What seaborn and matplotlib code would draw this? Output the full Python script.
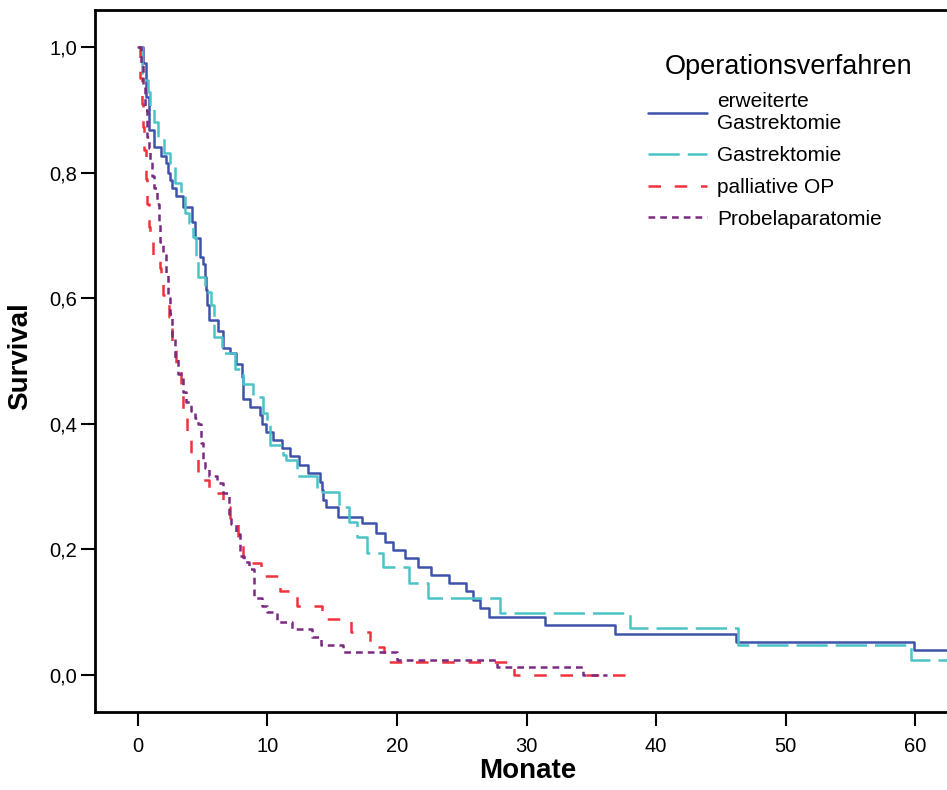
import numpy as np
import pandas as pd
import matplotlib
matplotlib.use('Agg')
import matplotlib.pyplot as plt
from matplotlib.ticker import FuncFormatter
import seaborn as sns

# Kaplan-Meier Stufen: Zeitpunkt (Monate) und Survival ab diesem Zeitpunkt
erw_t = [0, 0.35, 0.6, 0.85, 1.2, 1.8, 2.16, 2.3, 2.47, 2.6, 2.93, 3.5, 4.14, 4.4, 4.8,
         5.04, 5.17, 5.25, 5.33, 5.5, 6.2, 6.6, 7.1, 7.6, 8.0, 8.1, 8.65, 9.4, 9.6, 9.9,
         10.45, 11.1, 11.7, 12.4, 13.15, 14.05, 14.2, 14.3, 14.55, 15.45, 17.3, 18.4,
         19.1, 19.7, 20.6, 21.65, 22.6, 24.0, 25.3, 25.9, 26.4, 27.1, 31.4, 36.8, 46.2,
         59.9, 64.0]
erw_s = [1.0, 0.974, 0.921, 0.868, 0.841, 0.826, 0.815, 0.80, 0.788, 0.775, 0.762, 0.746,
         0.722, 0.696, 0.666, 0.655, 0.634, 0.613, 0.589, 0.565, 0.547, 0.52, 0.513, 0.496,
         0.475, 0.44, 0.427, 0.414, 0.40, 0.387, 0.374, 0.361, 0.348, 0.334, 0.321, 0.308,
         0.295, 0.279, 0.268, 0.252, 0.242, 0.226, 0.212, 0.199, 0.186, 0.172, 0.159, 0.146,
         0.133, 0.12, 0.106, 0.093, 0.08, 0.066, 0.053, 0.040, 0.040]

gas_t = [0, 0.3, 0.8, 0.93, 1.26, 1.57, 2.0, 2.47, 2.86, 3.3, 3.63, 3.94, 4.22, 4.48, 4.66,
         5.17, 5.6, 5.85, 5.9, 6.5, 7.49, 8.13, 8.9, 9.63, 9.94, 10.2, 11.2, 11.4, 12.3,
         13.8, 15.55, 16.3, 16.9, 17.66, 18.94, 20.95, 22.4, 27.95, 38.0, 46.35, 59.7, 64.0]
gas_s = [1.0, 0.947, 0.929, 0.905, 0.881, 0.857, 0.831, 0.815, 0.783, 0.767, 0.736, 0.72,
         0.697, 0.664, 0.634, 0.61, 0.589, 0.571, 0.539, 0.513, 0.488, 0.464, 0.443, 0.417,
         0.401, 0.366, 0.35, 0.342, 0.317, 0.292, 0.268, 0.244, 0.22, 0.194, 0.172, 0.147,
         0.122, 0.098, 0.074, 0.048, 0.024, 0.024]

pal_t = [0, 0.15, 0.29, 0.41, 0.5, 0.62, 0.73, 0.85, 0.93, 1.13, 1.7, 1.75, 1.9, 2.4, 2.6,
         2.95, 3.3, 3.5, 3.8, 4.07, 4.6, 5.45, 6.6, 7.1, 7.75, 8.13, 9.5, 11.0, 12.25, 14.2,
         16.45, 17.9, 19.0, 29.0, 38.0]
pal_s = [1.0, 0.95, 0.91, 0.873, 0.836, 0.79, 0.75, 0.713, 0.693, 0.666, 0.648, 0.629,
         0.605, 0.57, 0.53, 0.495, 0.46, 0.422, 0.38, 0.352, 0.31, 0.29, 0.268, 0.244, 0.21,
         0.178, 0.157, 0.133, 0.11, 0.089, 0.068, 0.045, 0.021, 0.0, 0.0]

pro_t = [0, 0.2, 0.35, 0.55, 0.7, 0.85, 0.95, 1.05, 1.25, 1.45, 1.6, 1.7, 1.9, 2.15, 2.35,
         2.5, 2.65, 2.85, 3.1, 3.5, 3.7, 4.1, 4.4, 4.6, 4.9, 5.05, 5.2, 5.5, 6.1, 6.6, 7.0,
         7.2, 7.6, 7.9, 8.2, 8.6, 8.95, 9.55, 10.0, 10.7, 11.9, 13.4, 14.1, 15.85, 20.0,
         27.7, 34.4, 36.2]
pro_s = [1.0, 0.974, 0.94, 0.9, 0.857, 0.84, 0.82, 0.795, 0.775, 0.75, 0.72, 0.69, 0.67,
         0.64, 0.6, 0.575, 0.535, 0.505, 0.48, 0.45, 0.435, 0.42, 0.41, 0.4, 0.37, 0.34,
         0.33, 0.317, 0.305, 0.29, 0.255, 0.24, 0.225, 0.19, 0.18, 0.168, 0.122, 0.11, 0.1,
         0.085, 0.073, 0.061, 0.048, 0.036, 0.024, 0.012, 0.0, 0.0]

groups = ['erweiterte Gastrektomie', 'Gastrektomie', 'palliative OP', 'Probelaparatomie']
legend_labels = ['erweiterte\nGastrektomie', 'Gastrektomie', 'palliative OP', 'Probelaparatomie']
x_ticks = [0, 10, 20, 30, 40, 50, 60]
y_ticks = [0.0, 0.2, 0.4, 0.6, 0.8, 1.0]

frames = []
for name, t, s in zip(groups, [erw_t, gas_t, pal_t, pro_t], [erw_s, gas_s, pal_s, pro_s]):
    frames.append(pd.DataFrame({'Monate': t, 'Survival': s, 'Operationsverfahren': name}))
df = pd.concat(frames, ignore_index=True)

sns.set_style('white')
plt.rcParams['font.family'] = ['Liberation Sans', 'DejaVu Sans']
plt.rcParams['text.color'] = 'black'
plt.rcParams['axes.labelcolor'] = 'black'

palette = {'erweiterte Gastrektomie': '#3d52a8', 'Gastrektomie': '#4cc3c6',
           'palliative OP': '#f0323c', 'Probelaparatomie': '#7b2a82'}
dashes = {'erweiterte Gastrektomie': '', 'Gastrektomie': (12.5, 3.2),
          'palliative OP': (5, 5.5), 'Probelaparatomie': (2.7, 2.0)}

fig = plt.figure(figsize=(9.47, 7.9), dpi=100)
ax = fig.add_axes([95 / 947, 78 / 790, 852 / 947, 702 / 790])

sns.lineplot(data=df, x='Monate', y='Survival', hue='Operationsverfahren',
             style='Operationsverfahren', hue_order=groups, style_order=groups,
             palette=palette, dashes=dashes, drawstyle='steps-post', estimator=None,
             sort=False, linewidth=1.8, ax=ax)

ax.set_xlim(-3.32, 62.47)
ax.set_ylim(-0.059, 1.059)
ax.set_xticks(x_ticks)
ax.set_yticks(y_ticks)
ax.yaxis.set_major_formatter(FuncFormatter(lambda v, p: f'{v:.1f}'.replace('.', ',')))

for side in ['left', 'bottom', 'top']:
    ax.spines[side].set_linewidth(2)
    ax.spines[side].set_color('black')
ax.spines['right'].set_visible(False)
ax.tick_params(axis='both', which='major', direction='out', length=10, width=1.5,
               labelsize=14.5, colors='black', left=True, bottom=True)
ax.tick_params(axis='x', pad=8)
ax.tick_params(axis='y', pad=3)

ax.set_xlabel('Monate', fontsize=20, fontweight='bold', color='black')
ax.set_ylabel('Survival', fontsize=20, fontweight='bold', color='black')
ax.xaxis.set_label_coords(0.508, -0.065)
ax.yaxis.set_label_coords(-0.073, 0.507)

handles, labels = ax.get_legend_handles_labels()
lookup = dict(zip(labels, handles))
leg = ax.legend([lookup[g] for g in groups], legend_labels, loc='upper left',
                bbox_to_anchor=(648 / 947, 1 - 92 / 790), bbox_transform=fig.transFigure,
                frameon=False, fontsize=15, handlelength=2.85, handletextpad=0.45,
                labelspacing=0.62, borderpad=0, borderaxespad=0)
for txt in leg.get_texts():
    txt.set_color('black')
fig.text(665 / 947, 1 - 67 / 790, 'Operationsverfahren', fontsize=19.5,
         ha='left', va='center', color='black')

plt.savefig('out.png', dpi=100)
